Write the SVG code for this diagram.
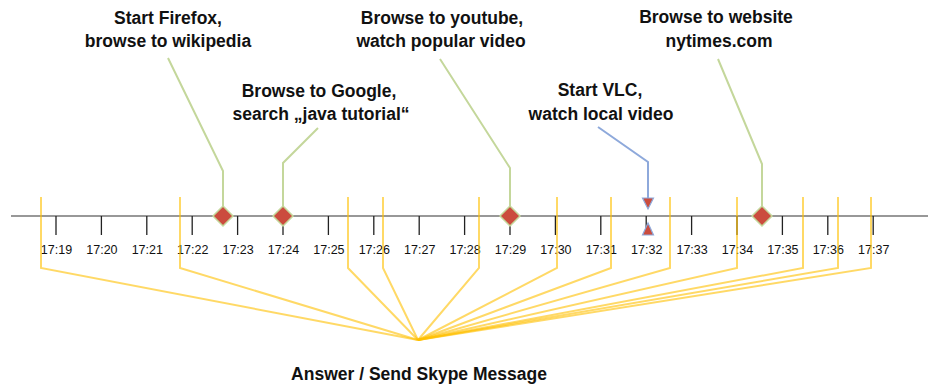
<svg xmlns="http://www.w3.org/2000/svg" width="932" height="388" viewBox="0 0 932 388">
<style>
.lbl{font-family:"Liberation Sans",Arial,sans-serif;font-weight:bold;font-size:17.5px;fill:#111;text-anchor:middle}
.tl{font-family:"Liberation Sans",Arial,sans-serif;font-size:12.5px;fill:#111;text-anchor:middle}
.tick{stroke:#222;stroke-width:1.3}
.yl{fill:none;stroke:#FFC000;stroke-opacity:0.6;stroke-width:2;stroke-linejoin:miter}
.gl{fill:none;stroke:#C4D79B;stroke-width:2}
.bl{fill:none;stroke:#8EA9DB;stroke-width:2}
.dia{fill:#CB4C3E;stroke:#C4D79B;stroke-width:1.5}
.tri{fill:#CB4C3E;stroke:#8EA9DB;stroke-width:1.2}
</style>
<rect width="932" height="388" fill="#fff"/>
<g id="axis">
<line x1="11" y1="216" x2="928" y2="216" stroke="#333" stroke-width="1.2"/>
<g class="tick">
<line x1="56" y1="216" x2="56" y2="235"/><line x1="101.4" y1="216" x2="101.4" y2="235"/><line x1="146.8" y1="216" x2="146.8" y2="235"/><line x1="192.2" y1="216" x2="192.2" y2="235"/><line x1="237.6" y1="216" x2="237.6" y2="235"/><line x1="283" y1="216" x2="283" y2="235"/><line x1="328.4" y1="216" x2="328.4" y2="235"/><line x1="373.8" y1="216" x2="373.8" y2="235"/><line x1="419.2" y1="216" x2="419.2" y2="235"/><line x1="464.6" y1="216" x2="464.6" y2="235"/><line x1="510" y1="216" x2="510" y2="235"/><line x1="555.4" y1="216" x2="555.4" y2="235"/><line x1="600.8" y1="216" x2="600.8" y2="235"/><line x1="646.2" y1="216" x2="646.2" y2="235"/><line x1="691.6" y1="216" x2="691.6" y2="235"/><line x1="737" y1="216" x2="737" y2="235"/><line x1="782.4" y1="216" x2="782.4" y2="235"/><line x1="827.8" y1="216" x2="827.8" y2="235"/><line x1="873.2" y1="216" x2="873.2" y2="235"/>
</g>
<g class="tl">
<text x="56.5" y="254">17:19</text><text x="101.9" y="254">17:20</text><text x="147.3" y="254">17:21</text><text x="192.7" y="254">17:22</text><text x="238.1" y="254">17:23</text><text x="283.5" y="254">17:24</text><text x="328.9" y="254">17:25</text><text x="374.3" y="254">17:26</text><text x="419.7" y="254">17:27</text><text x="465.1" y="254">17:28</text><text x="510.5" y="254">17:29</text><text x="555.9" y="254">17:30</text><text x="601.3" y="254">17:31</text><text x="646.7" y="254">17:32</text><text x="692.1" y="254">17:33</text><text x="737.5" y="254">17:34</text><text x="782.9" y="254">17:35</text><text x="828.3" y="254">17:36</text><text x="873.7" y="254">17:37</text>
</g>
</g>
<g id="connectors">
<polyline class="yl" points="41,197 41,268 418,340"/>
<polyline class="yl" points="180,197 180,268 418,340"/>
<polyline class="yl" points="348,197 348,268 418,340"/>
<polyline class="yl" points="383,197 383,268 418,340"/>
<polyline class="yl" points="479,197 479,268 418,340"/>
<polyline class="yl" points="557,197 557,268 418,340"/>
<polyline class="yl" points="611,197 611,268 418,340"/>
<polyline class="yl" points="670,197 670,268 418,340"/>
<polyline class="yl" points="737,197 737,268 418,340"/>
<polyline class="yl" points="803,197 803,268 418,340"/>
<polyline class="yl" points="838,197 838,268 418,340"/>
<polyline class="yl" points="871,197 871,268 418,340"/>
<polyline class="gl" points="168,58 223,171 223,206"/>
<polyline class="gl" points="318,128 283,163 283,206"/>
<polyline class="gl" points="440,59 510,168 510,206"/>
<polyline class="gl" points="718,59 762,164 762,206"/>
<polyline class="bl" points="598,127 648,162 648,198"/>
</g>
<g id="ev-firefox"><polygon class="dia" points="223,206 233,216 223,226 213,216"/><text class="lbl" x="168" y="24">Start Firefox,</text><text class="lbl" x="168" y="47">browse to wikipedia</text></g>
<g id="ev-google"><polygon class="dia" points="283,206 293,216 283,226 273,216"/><text class="lbl" x="319" y="97">Browse to Google,</text><text class="lbl" x="321" y="120">search „java tutorial“</text></g>
<g id="ev-youtube"><polygon class="dia" points="510,206 520,216 510,226 500,216"/><text class="lbl" x="442" y="24">Browse to youtube,</text><text class="lbl" x="441" y="47">watch popular video</text></g>
<g id="ev-vlc"><polygon class="tri" points="642.5,198 653.5,198 648,209"/><polygon class="tri" points="648,223 642.5,235 653.5,235"/><text class="lbl" x="600" y="96">Start VLC,</text><text class="lbl" x="601" y="120">watch local video</text></g>
<g id="ev-nytimes"><polygon class="dia" points="762,206 772,216 762,226 752,216"/><text class="lbl" x="716" y="23">Browse to website</text><text class="lbl" x="719" y="47">nytimes.com</text></g>
<g id="ev-skype"><text class="lbl" x="419" y="380">Answer / Send Skype Message</text></g>
</svg>
